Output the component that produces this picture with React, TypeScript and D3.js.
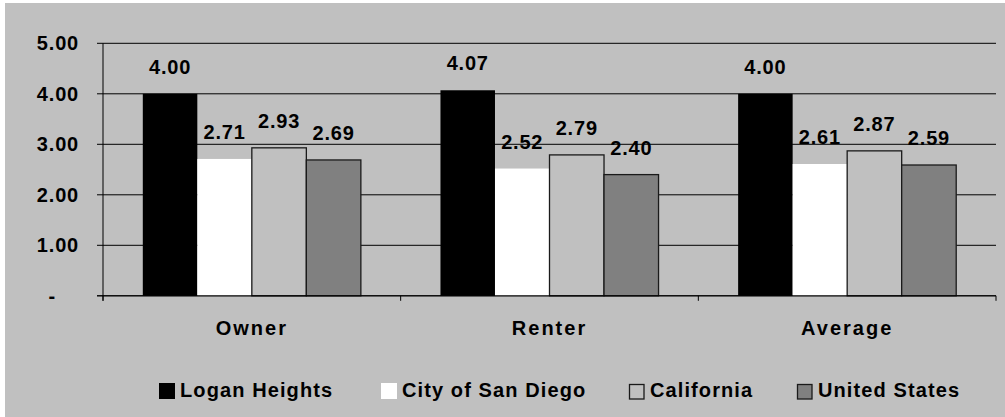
import React from "react";
import * as d3 from "d3";

const categories = ["Owner", "Renter", "Average"];
const seriesNames = ["Logan Heights", "City of San Diego", "California", "United States"];
const loganHeights = [4.0, 4.07, 4.0];
const citySanDiego = [2.71, 2.52, 2.61];
const california = [2.93, 2.79, 2.87];
const unitedStates = [2.69, 2.4, 2.59];
const yTicks = [0, 1, 2, 3, 4, 5];
const yTickLabels = ["-", "1.00", "2.00", "3.00", "4.00", "5.00"];

const seriesValues = [loganHeights, citySanDiego, california, unitedStates];
const fills = ["#000000", "#ffffff", "#c0c0c0", "#808080"];
const strokes = ["none", "none", "#1a1a1a", "#1a1a1a"];
const legendX = [159, 381, 629, 797];

const W = 1005;
const H = 417;
const left = 103;
const right = 996;
const top = 43.3;
const bottom = 295.8;
const font = "'Liberation Sans', Arial, Helvetica, sans-serif";

export default function App() {
  const x0 = d3.scaleBand<string>().domain(categories).range([left, right]).padding(0);
  const x1 = d3
    .scaleBand<string>()
    .domain(seriesNames)
    .range([0, x0.bandwidth()])
    .paddingInner(0)
    .paddingOuter(0.73);
  const y = d3.scaleLinear().domain([0, 5]).range([bottom, top]);

  const boundaries = [...categories.map((c) => x0(c) as number), right];

  return (
    <svg
      width={W}
      height={H}
      style={{ position: "absolute", left: 0, top: 0, display: "block" }}
      fontFamily={font}
      fontWeight="bold"
    >
      <rect x={0} y={0} width={W} height={H} fill="#ffffff" />
      <rect x={5} y={3} width={W - 5} height={H - 3} fill="#c0c0c0" />

      {/* gridlines + y ticks */}
      {yTicks.map((t, i) => (
        <g key={"g" + t}>
          <line x1={97} x2={right} y1={y(t)} y2={y(t)} stroke="#000" strokeWidth={1} />
          <text
            x={t === 0 ? 56 : 79}
            y={y(t) + 7}
            textAnchor="end"
            fontSize={20}
            letterSpacing={0.8}
            fill="#000"
          >
            {yTickLabels[i]}
          </text>
        </g>
      ))}

      {/* bars */}
      {categories.map((c, ci) => (
        <g key={c} transform={`translate(${x0(c)},0)`}>
          {seriesNames.map((s, si) => {
            const v = seriesValues[si][ci];
            const bx = x1(s) as number;
            const bw = x1.bandwidth();
            return (
              <g key={s}>
                <rect
                  x={bx}
                  y={y(v)}
                  width={bw}
                  height={bottom - y(v)}
                  fill={fills[si]}
                  stroke={strokes[si]}
                  strokeWidth={1.3}
                />
              </g>
            );
          })}
        </g>
      ))}

      {/* axes */}
      <line x1={left} x2={left} y1={top} y2={bottom + 5} stroke="#000" strokeWidth={1} />
      <line x1={97} x2={right} y1={bottom} y2={bottom} stroke="#000" strokeWidth={1} />
      {boundaries.map((b, i) => (
        <line key={"t" + i} x1={b} x2={b} y1={bottom} y2={bottom + 5} stroke="#000" strokeWidth={1} />
      ))}

      {/* data labels */}
      {categories.map((c, ci) =>
        seriesNames.map((s, si) => {
          const v = seriesValues[si][ci];
          const cx = (x0(c) as number) + (x1(s) as number) + x1.bandwidth() / 2;
          return (
            <text
              key={c + s}
              x={cx}
              y={y(v) - 20}
              textAnchor="middle"
              fontSize={20}
              letterSpacing={0.8}
              fill="#000"
            >
              {v.toFixed(2)}
            </text>
          );
        })
      )}

      {/* category labels */}
      {categories.map((c) => (
        <text
          key={"c" + c}
          x={(x0(c) as number) + x0.bandwidth() / 2}
          y={334.7}
          textAnchor="middle"
          fontSize={20}
          letterSpacing={2}
          fill="#000"
        >
          {c}
        </text>
      ))}

      {/* legend */}
      {seriesNames.map((s, si) => (
        <g key={"l" + s}>
          <rect
            x={legendX[si]}
            y={383}
            width={si >= 2 ? 14.5 : 16}
            height={si >= 2 ? 14.5 : 16}
            fill={fills[si]}
            stroke={strokes[si]}
            strokeWidth={1.3}
            transform={si >= 2 ? "translate(0.5,1.5)" : undefined}
          />
          <text x={legendX[si] + 21} y={396.7} fontSize={20} letterSpacing={1.1} fill="#000">
            {s}
          </text>
        </g>
      ))}
    </svg>
  );
}
